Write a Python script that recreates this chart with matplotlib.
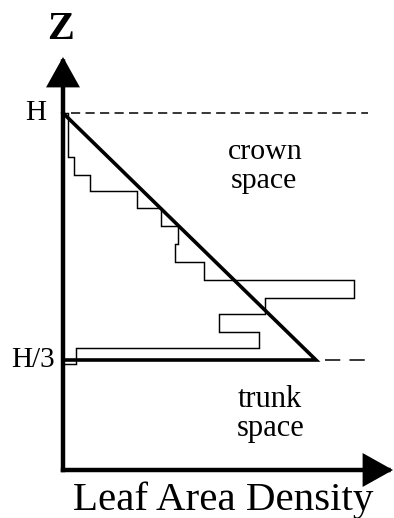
import matplotlib
matplotlib.use("Agg")
import matplotlib.pyplot as plt
from matplotlib.patches import FancyArrowPatch

# ---- data (LAD in arbitrary units, height z in arbitrary units) ----
H = 357
H3 = 110
z_edges = [106, 122, 138, 156, 172, 190, 208, 226, 244, 262, 279, 295, 313, 357]
lad_values = [13, 196, 156, 202, 291, 141, 112, 115, 98, 74, 27, 11, 5]
tri_lad = [0, 253, 0]
tri_z = [H, H3, H3]
labels = {"H": H, "H/3": H3}

fig = plt.figure(figsize=(3.94, 5.18), dpi=100)
ax = fig.add_axes([0, 0, 1, 1])
ax.set_xlim(-63, 331)
ax.set_ylim(-48, 470)
ax.axis("off")

serif = ["Liberation Serif", "DejaVu Serif"]

# stepped LAD profile
ax.stairs(lad_values, z_edges, orientation="horizontal", baseline=0,
          color="black", lw=1.05)

# triangle approximation
ax.plot(tri_lad, tri_z, color="black", lw=2.6, solid_joinstyle="miter")

# dashed reference lines
ax.plot([8, 305], [H, H], color="black", lw=1.1, dashes=(6, 3.5))
ax.plot([262, 305], [H3, H3], color="black", lw=1.1, dashes=(10, 6))

# axes with arrows
for start, end in [((0, 0), (0, 413)), ((0, 0), (330, 0))]:
    arr = FancyArrowPatch(start, end, arrowstyle="-|>,head_length=1.7,head_width=0.95",
                          mutation_scale=10, lw=3.2, color="black",
                          shrinkA=0, shrinkB=0, joinstyle="miter", capstyle="projecting")
    ax.add_patch(arr)

# labels
for txt, z in labels.items():
    x = -27.5 if txt == "H" else -29.5
    ax.text(x, z, txt, ha="center", va="center", fontsize=21, family=serif)

ax.text(-2, 431, "Z", ha="center", va="baseline", fontsize=29, fontweight="bold", family=serif)
ax.text(202, 311, "crown", ha="center", va="baseline", fontsize=21.5, family=serif)
ax.text(201, 282, "space", ha="center", va="baseline", fontsize=21.5, family=serif)
ax.text(207, 63, "trunk", ha="center", va="baseline", fontsize=22, family=serif)
ax.text(208, 34, "space", ha="center", va="baseline", fontsize=22, family=serif)
ax.text(160.5, -40, "Leaf Area Density", ha="center", va="baseline", fontsize=29.5, family=serif)

fig.savefig("out.png", dpi=100)
